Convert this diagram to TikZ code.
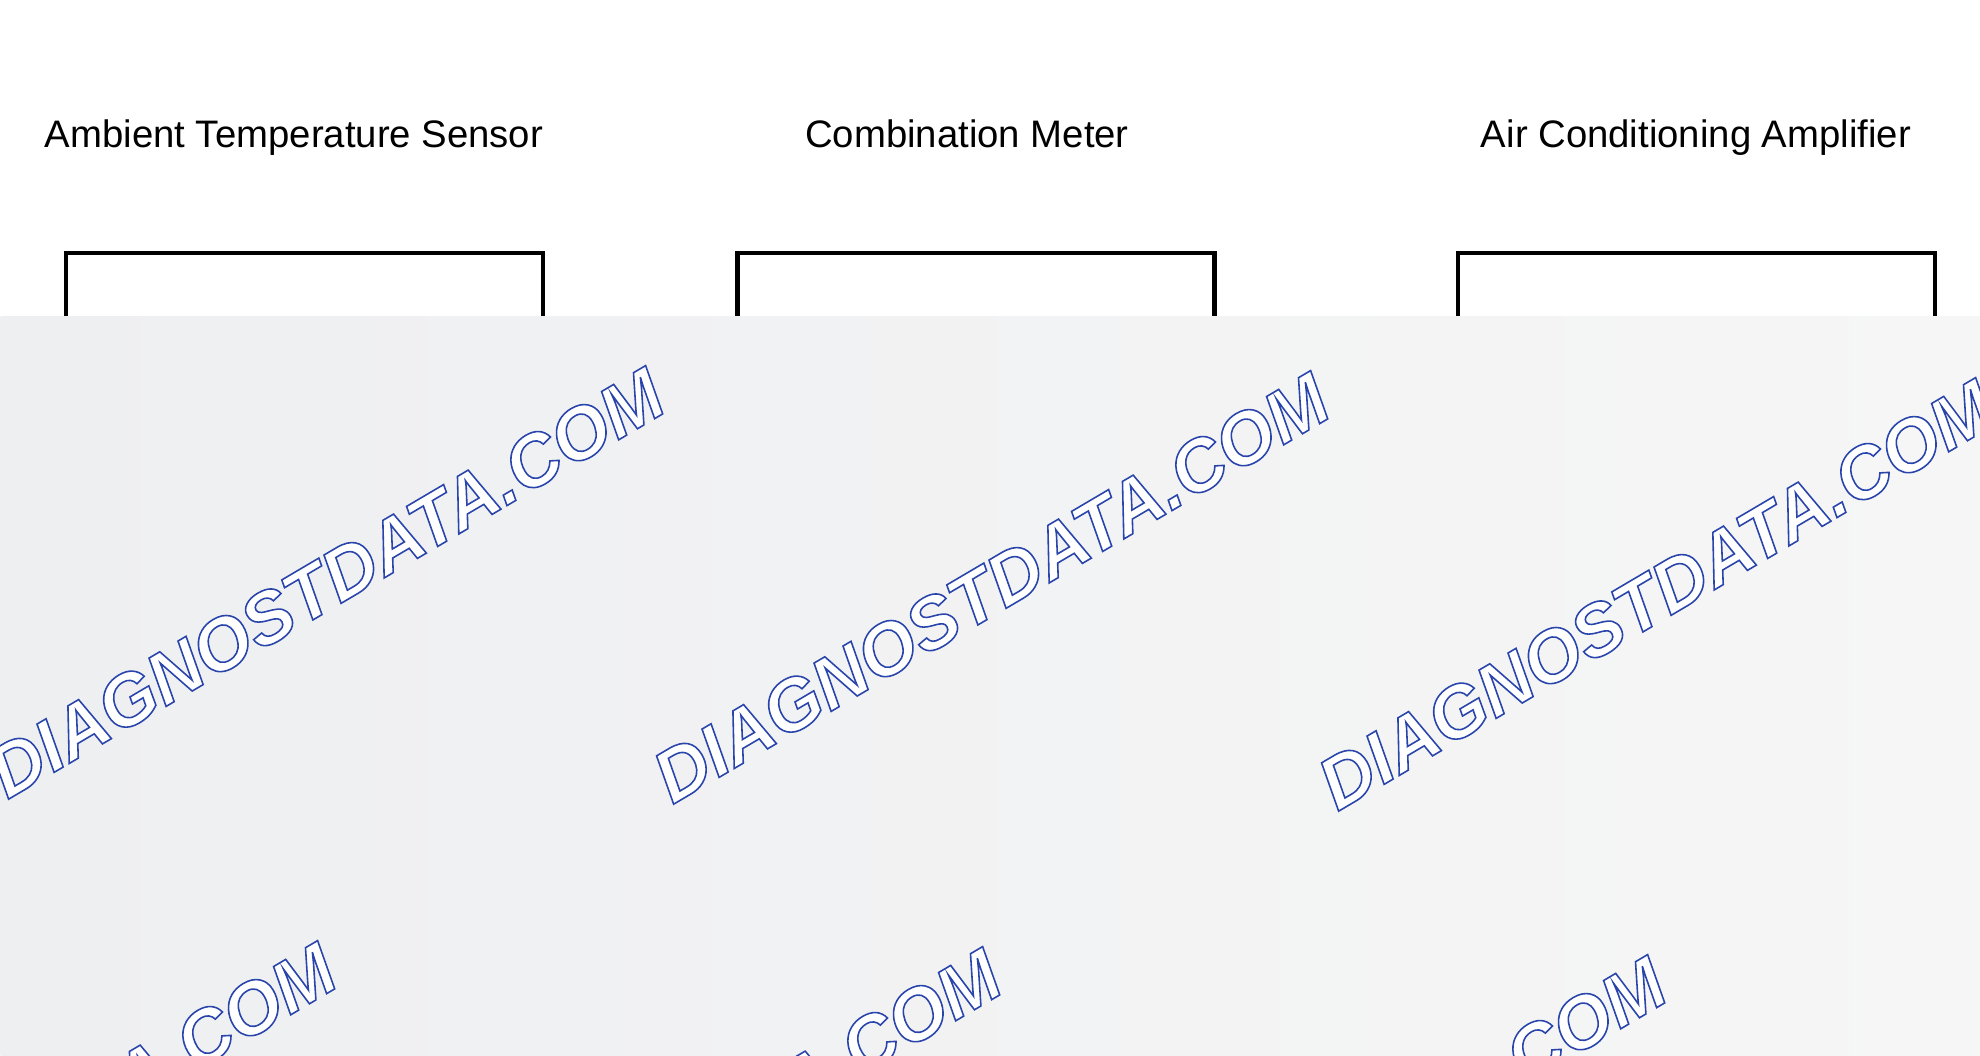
\documentclass[tikz,border=0pt]{standalone}
\usepackage{fontspec}
\setmainfont{Liberation Sans}
\usetikzlibrary{positioning}
\definecolor{wmblue}{RGB}{40,70,170}
\definecolor{veilL}{RGB}{238,239,241}
\definecolor{veilR}{RGB}{246,246,246}
\tikzset{
    title/.style = {font=\fontsize{10.9}{13}\selectfont, inner sep=0pt, anchor=base},
    unitbox/.style = {rectangle, draw=black, line width=1.2pt, minimum width=4.77cm, minimum height=2.2cm, anchor=north},
    veilbox/.style = {left color=veilL, right color=veilR, draw=none},
    wmark/.style = {rotate=30.5, inner sep=0pt, text=white, font=\fontsize{20.8}{24}\selectfont\bfseries\itshape}
}
\newcommand{\wmtext}{\special{pdf:literal direct 2 Tr 0.45 w 0.16 0.27 0.67 RG}DIAGNOSTDATA.COM\special{pdf:literal direct 0 Tr}}
\begin{document}
\begin{tikzpicture}
  \useasboundingbox (0,0) rectangle (19.8,-10.55);
  \clip (0,0) rectangle (19.8,-10.55);
  \fill[white] (0,0) rectangle (19.8,-10.55);

  % titles
  \node[title] (ats) at (2.94,-1.47) {Ambient Temperature Sensor};
  \node[title] (cm)  at (9.67,-1.47) {Combination Meter};
  \node[title] (aca) at (16.96,-1.47) {Air Conditioning Amplifier};

  % units
  \node[unitbox] (atsbox) at (3.045,-2.51) {};
  \node[unitbox] (cmbox)  at (9.76,-2.51) {};
  \node[unitbox] (acabox) at (16.965,-2.51) {};

  % grey veil over the lower part
  \node[veilbox, minimum width=19.9cm, minimum height=7.45cm, anchor=north west, inner sep=0pt] (veil) at (0,-3.16) {};

  % watermark
  \node[wmark] (wm1) at (3.26,-5.83) {\wmtext};
  \node[wmark] (wm2) at (9.91,-5.88) {\wmtext};
  \node[wmark] (wm3) at (16.56,-5.95) {\wmtext};
  \node[wmark] (wm4) at (-0.02,-11.58) {\wmtext};
  \node[wmark] (wm5) at (6.63,-11.64) {\wmtext};
  \node[wmark] (wm6) at (13.28,-11.72) {\wmtext};
  \node[wmark] (wm7) at (19.93,-11.80) {\wmtext};
\end{tikzpicture}
\end{document}
